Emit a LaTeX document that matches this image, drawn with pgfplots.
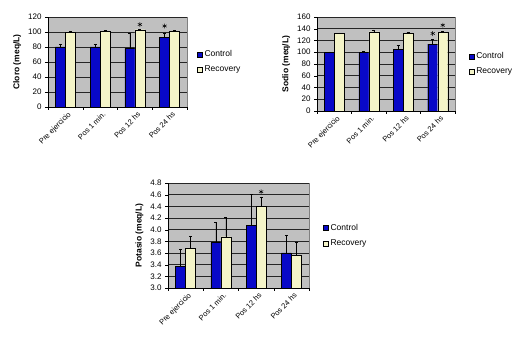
\documentclass[border=0pt]{standalone}
\usepackage{pgfplots}
\pgfplotsset{compat=1.18}
\usepackage{fontspec}
\setmainfont{Liberation Sans}
\definecolor{bgc}{HTML}{C0C0C0}
\definecolor{ctrlA}{HTML}{0808C8}
\definecolor{recA}{HTML}{F4F4C8}
\pgfplotsset{
  excel/.style={
    scale only axis,
    axis lines*=left,
    axis line style={black},
    axis background/.style={fill=bgc, draw=gray},
    xmin=-0.5, xmax=3.5,
    xtick={-0.5,0.5,1.5,2.5,3.5},
    xticklabels={},
    extra x ticks={0,1,2,3},
    extra x tick labels={Pre ejercicio, Pos 1 min., Pos 12 hs, Pos 24 hs},
    extra x tick style={major tick length=0pt, grid=none,
      xticklabel style={rotate=45, anchor=north east, xshift=2pt, yshift=-1pt,
        font=\fontsize{7.5}{8}\selectfont}},
    tick align=outside,
    major tick length=3pt,
    tick style={black},
    ymajorgrids,
    major grid style={black!85, line width=0.5pt},
    /pgf/number format/assume math mode=true,
    tick label style={font=\fontsize{8}{9}\selectfont},
    ylabel style={font=\bfseries\fontsize{8.5}{9}\selectfont},
    legend style={draw=none, fill=none, font=\fontsize{8.5}{10}\selectfont,
      anchor=west, row sep=4pt, inner sep=0pt},
    legend cell align=left,
    legend image code/.code={\draw[#1,draw=black,line width=0.3pt] (0pt,-2.5pt) rectangle (5pt,2.5pt);},
    error bars/y dir=plus,
    error bars/y explicit,
    error bars/error mark options={rotate=90, mark size=1.5pt, black},
  },
  ctrl/.style={ybar, bar width=10pt, bar shift=-5pt, draw=black, line width=0.3pt,
    fill=ctrlA,
    error bars/error bar style={black, line width=0.5pt, xshift=-5pt}},
  rec/.style={ybar, bar width=10pt, bar shift=5pt, draw=black, line width=0.3pt,
    fill=recA,
    error bars/error bar style={black, line width=0.5pt, xshift=5pt}},
  star/.style={only marks, mark=asterisk, mark size=2.4pt, mark options={black, line width=0.5pt}, forget plot},
}
\begin{document}
\begin{tikzpicture}
\useasboundingbox (0,0) rectangle (520pt,350pt);
% Cloro
\begin{axis}[excel, at={(48pt,243pt)}, anchor=south west, width=139pt, height=90pt,
  ymin=0, ymax=120, ytick={0,20,...,120}, ylabel={Cloro (meq/L)},
  legend style={at={(1.072,0.5)}}]
\addplot[ctrl] coordinates {(0,80) +- (0,4) (1,80) +- (0,4) (2,78) +- (0,20) (3,93) +- (0,5)};
\addlegendentry{Control}
\addplot[rec] coordinates {(0,100) +- (0,1) (1,101) +- (0,1) (2,103) +- (0,1) (3,101) +- (0,1)};
\addlegendentry{Recovery}
\addplot[star] coordinates {(2.144,110) (2.856,108)};
\end{axis}
% Sodio
\begin{axis}[excel, at={(317pt,239pt)}, anchor=south west, width=138pt, height=94pt,
  ymin=0, ymax=160, ytick={0,20,...,160}, ylabel={Sodio (meq/L)},
  legend style={at={(1.1,0.5)}}]
\addplot[ctrl] coordinates {(0,100) +- (0,0.5) (1,100) +- (0,1) (2,105) +- (0,7) (3,114) +- (0,8)};
\addlegendentry{Control}
\addplot[rec] coordinates {(0,132) +- (0,1) (1,135) +- (0,3) (2,132) +- (0,2) (3,134) +- (0,1)};
\addlegendentry{Recovery}
\addplot[star] coordinates {(2.855,132) (3.145,146)};
\end{axis}
% Potasio
\begin{axis}[excel, at={(168pt,62pt)}, anchor=south west, width=141pt, height=105pt,
  ymin=3.0, ymax=4.8, ytick={3.0,3.2,...,4.81},
  yticklabel style={/pgf/number format/.cd, fixed, fixed zerofill, precision=1},
  ylabel={Potasio (meq/L)},
  legend style={at={(1.1,0.5)}}]
\addplot[ctrl] coordinates {(0,3.37) +- (0,0.30) (1,3.78) +- (0,0.34) (2,4.07) +- (0,0.53) (3,3.60) +- (0,0.30)};
\addlegendentry{Control}
\addplot[rec] coordinates {(0,3.68) +- (0,0.21) (1,3.88) +- (0,0.33) (2,4.40) +- (0,0.16) (3,3.56) +- (0,0.23)};
\addlegendentry{Recovery}
\addplot[star] coordinates {(2.142,4.65)};
\end{axis}
\end{tikzpicture}
\end{document}
